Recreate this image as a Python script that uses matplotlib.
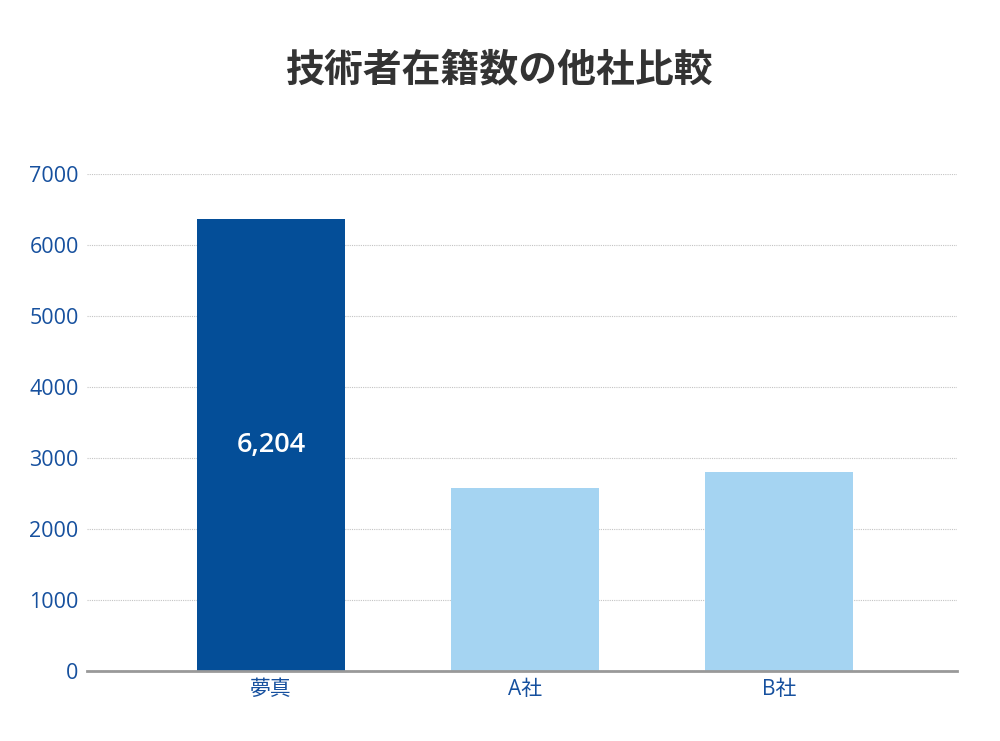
import matplotlib
matplotlib.use("Agg")
import matplotlib.pyplot as plt

plt.rcParams['font.family'] = ['Open Sans', 'Noto Sans CJK JP', 'DejaVu Sans']

# data
companies = ["夢真", "A社", "B社"]
engineers = [6366, 2578, 2802]
bar_colors = ["#044e98", "#a5d4f2", "#a5d4f2"]
value_label = "6,204"
yticks = [0, 1000, 2000, 3000, 4000, 5000, 6000, 7000]

blue_text = "#16509e"

fig = plt.figure(figsize=(10, 7.41), dpi=100)
ax = fig.add_axes([0.087, 0.0945, 0.870, 0.6707])

x = range(len(companies))
bars = ax.bar(x, engineers, width=0.583, color=bar_colors, zorder=3)

# label inside the first bar
ax.text(0, engineers[0] / 2, value_label, color="white", fontsize=19.5,
        fontweight="semibold", ha="center", va="center", zorder=4)

ax.set_xlim(-0.724, 2.70)
ax.set_ylim(0, 7000)
ax.set_yticks(yticks)
ax.set_yticklabels([str(v) for v in yticks])
ax.set_xticks(list(x))
ax.set_xticklabels(companies)

ax.grid(axis="y", color="#c4c4c4", linestyle=(0, (1, 1)), linewidth=0.8, zorder=0)
for s in ["top", "right", "left"]:
    ax.spines[s].set_visible(False)
ax.spines["bottom"].set_color("#999999")
ax.spines["bottom"].set_linewidth(2)
ax.spines["bottom"].set_zorder(5)

ax.tick_params(axis="y", length=0, labelsize=15.5, labelcolor=blue_text, pad=6)
ax.tick_params(axis="x", length=0, labelsize=15, labelcolor=blue_text, pad=6)

fig.text(0.5, 0.905, "技術者在籍数の他社比較", ha="center", va="center",
         fontsize=28, fontweight="bold", color="#333333",
         family=['Noto Sans CJK JP', 'DejaVu Sans'])

fig.savefig("out.png", dpi=100, facecolor="white")
